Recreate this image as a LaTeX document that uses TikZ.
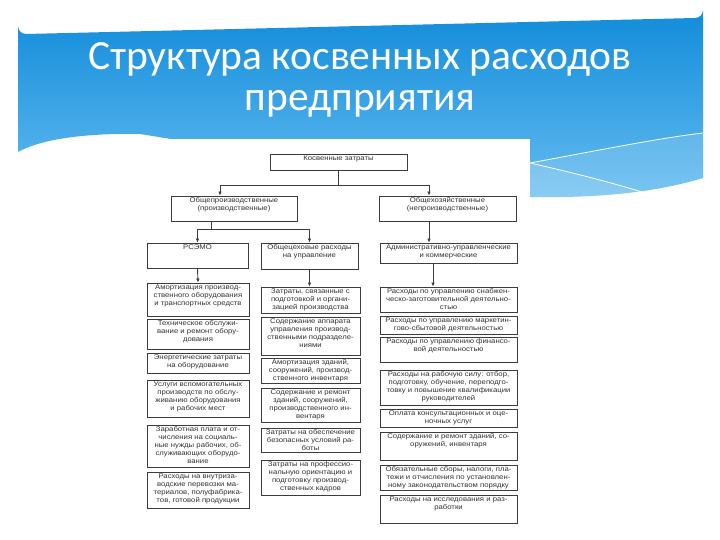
\documentclass[tikz,border=0pt]{standalone}
\usepackage{fontspec}
\usetikzlibrary{arrows.meta}
\newfontfamily\titlefont{Carlito}
\newfontfamily\dfont[FakeStretch=1.13]{Liberation Sans}
\definecolor{bantop}{RGB}{18,140,218}
\definecolor{banbot}{RGB}{100,188,240}
\definecolor{ln}{RGB}{60,60,60}
\definecolor{txc}{RGB}{50,50,50}
\tikzset{
  bx/.style={draw=ln, line width=0.9pt, rectangle, inner sep=0pt, fill=white},
  tx/.style={align=center, inner sep=0pt, text=txc, font=\dfont\fontsize{6.85}{8.0}\selectfont},
  conn/.style={draw=ln, line width=0.9pt},
  arr/.style={conn, -{Latex[length=4pt,width=3.6pt]}}
}
\newcommand\bx[6]{%
  \node[bx, minimum width={(#4-#2)*1pt}, minimum height={(#5-#3)*1pt}] (#1) at ({(#2+#4)/2},{(#3+#5)/2}) {};
  \node[tx, anchor=north] (#1t) at ([yshift=-2pt]#1.north) {#6};}
\begin{document}
\begin{tikzpicture}[x=1pt,y=-1pt]
\useasboundingbox (0,0) rectangle (720,540);
\fill[white] (0,0) rectangle (720,540);
% banner
\shade[top color=bantop, bottom color=banbot]
  (18,152) -- (18,26) arc[start angle=180, end angle=90, radius=8] -- (695,18)
  arc[start angle=90, end angle=0, radius=8] -- (703,178)
  .. controls (650,194) and (590,198) .. (530,197) -- (140,134)
  .. controls (80,133) and (40,140) .. (18,152) -- cycle;
\fill[white, opacity=0.14] (530,163) .. controls (600,150) and (660,138) .. (703,133)
  -- (703,178) .. controls (650,194) and (590,198) .. (530,197) -- cycle;
\fill[white, opacity=0.12] (530,163) .. controls (570,172) and (610,182) .. (650,193)
  -- (650,195) .. controls (610,197) and (570,198) .. (530,197) -- cycle;
\draw[white, line width=0.8pt] (530,163) .. controls (600,150) and (660,138) .. (703,133);
\draw[white, line width=0.8pt] (530,163) .. controls (570,172) and (610,182) .. (645,193);
% title
\node[anchor=base, text=white, font=\titlefont\fontsize{41.5}{48}\selectfont, inner sep=0pt] (t1) at (360,70) {Структура косвенных расходов};
\node[anchor=base, text=white, font=\titlefont\fontsize{41.5}{48}\selectfont, inner sep=0pt] (t2) at (360,111) {предприятия};
% panel
\fill[white] (140,139) rectangle (530,540);
% boxes
\bx{k}{270}{154}{407}{170}{Косвенные затраты}
\bx{L}{171}{196}{297}{221}{Общепроизводственные\\(производственные)}
\bx{R}{379}{196}{516}{221}{Общехозяйственные\\(непроизводственные)}
\bx{rs}{147}{243}{248}{268}{РСЭМО}
\bx{oc}{261}{243}{358}{269}{Общецеховые расходы\\на управление}
\bx{ad}{380}{243}{517}{263}{Административно-управленческие\\и коммерческие}
% left column
\bx{a1}{147}{283}{249}{316}{Амортизация производ-\\ственного оборудования\\и транспортных средств}
\bx{a2}{147}{319}{249}{349}{Техническое обслужи-\\вание и ремонт обору-\\дования}
\bx{a3}{147}{353}{249}{373}{Энергетические затраты\\на оборудование}
\bx{a4}{147}{380}{249}{417}{Услуги вспомогательных\\производств по обслу-\\живанию оборудования\\и рабочих мест}
\bx{a5}{147}{425}{249}{467}{Заработная плата и от-\\числения на социаль-\\ные нужды рабочих, об-\\служивающих оборудо-\\вание}
\bx{a6}{147}{472}{249}{508}{Расходы на внутриза-\\водские перевозки ма-\\териалов, полуфабрика-\\тов, готовой продукции}
% middle column
\bx{b1}{261}{287}{360}{313}{Затраты, связанные с\\подготовкой и органи-\\зацией производства}
\bx{b2}{261}{317}{360}{355}{Содержание аппарата\\управления производ-\\ственными подразделе-\\ниями}
\bx{b3}{261}{358}{360}{383}{Амортизация зданий,\\сооружений, производ-\\ственного инвентаря}
\bx{b4}{261}{388}{360}{422}{Содержание и ремонт\\зданий, сооружений,\\производственного ин-\\вентаря}
\bx{b5}{261}{428}{360}{452}{Затраты на обеспечение\\безопасных условий ра-\\боты}
\bx{b6}{261}{460}{360}{495}{Затраты на профессио-\\нальную ориентацию и\\подготовку производ-\\ственных кадров}
% right column
\bx{c1}{380}{287}{517}{312}{Расходы по управлению снабжен-\\ческо-заготовительной деятельно-\\стью}
\bx{c2}{380}{316}{517}{334}{Расходы по управлению маркетин-\\гово-сбытовой деятельностью}
\bx{c3}{380}{337}{517}{362}{Расходы по управлению финансо-\\вой деятельностью}
\bx{c4}{380}{370}{517}{405}{Расходы на рабочую силу: отбор,\\подготовку, обучение, переподго-\\товку и повышение квалификации\\руководителей}
\bx{c5}{380}{409}{517}{427}{Оплата консультационных и оце-\\ночных услуг}
\bx{c6}{380}{432}{517}{460}{Содержание и ремонт зданий, со-\\оружений, инвентаря}
\bx{c7}{380}{465}{517}{490}{Обязательные сборы, налоги, пла-\\тежи и отчисления по установлен-\\ному законодательством порядку}
\bx{c8}{380}{495}{517}{523}{Расходы на исследования и раз-\\работки}
% connectors
\coordinate (hL) at (220,185);
\coordinate (hR) at (429,185);
\coordinate (vL) at (211,229);
\coordinate (vA) at (433,270);
\draw[conn] (k.south) -- (k.south |- hL);
\draw[conn] (hL) -- (hR);
\draw[arr] (hL) -- (hL |- L.north);
\draw[arr] (hR) -- (hR |- R.north);
\draw[conn] (vL |- L.south) -- (vL);
\draw[conn] (rs.north |- vL) -- (oc.north |- vL);
\draw[arr] (rs.north |- vL) -- (rs.north);
\draw[arr] (oc.north |- vL) -- (oc.north);
\draw[arr] (hR |- R.south) -- (hR |- ad.north);
\draw[arr] (rs.south) -- (a1.north);
\draw[arr] (oc.south) -- (oc.south |- b1.north);
\draw[arr] (vA |- ad.south) -- (vA |- c1.north);
\end{tikzpicture}
\end{document}
